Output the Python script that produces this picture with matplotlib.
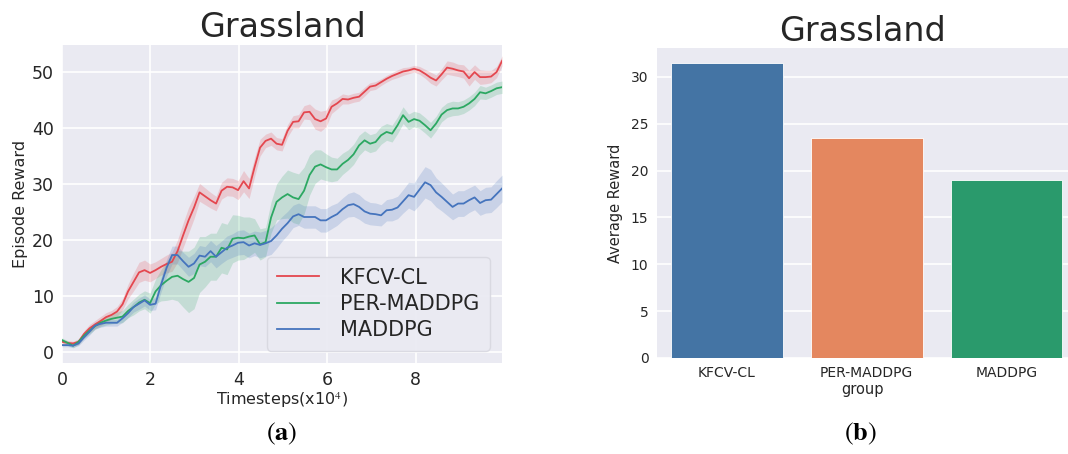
import numpy as np
import matplotlib
matplotlib.use('Agg')
import matplotlib.pyplot as plt

# timesteps in units of 1e4
timesteps = np.linspace(0, 9.95, 81)

kfcv_mean = [1.8, 1.6, 1.5, 1.8, 3.2, 4.2, 4.9, 5.5, 6.2, 6.6, 7.2,
             8.5, 10.8, 12.5, 14.2, 14.6, 14.1, 14.6, 15.2, 15.7, 16.1,
             18.0, 20.8, 23.5, 25.8, 28.5, 27.8, 27.1, 26.5, 28.8, 29.5,
             29.4, 28.9, 30.5, 29.2, 33.0, 36.5, 37.7, 38.1, 37.2, 37.0,
             39.5, 41.1, 41.2, 42.8, 42.9, 41.6, 41.2, 41.7, 43.8, 44.4,
             45.2, 45.1, 45.4, 45.6, 46.5, 47.4, 47.6, 48.2, 48.8, 49.3,
             49.7, 50.1, 50.3, 50.6, 50.3, 49.7, 49.0, 48.5, 49.6, 50.8,
             50.6, 50.3, 50.1, 48.9, 50.0, 49.1, 49.1, 49.2, 50.0, 52.0]
kfcv_std = [0.4, 0.4, 0.4, 0.5, 0.6, 0.7, 0.7, 0.8, 0.8, 0.8, 0.9,
            1.0, 1.3, 1.6, 1.8, 1.8, 1.6, 1.5, 1.5, 1.6, 1.7,
            2.0, 2.2, 2.3, 2.0, 1.6, 1.5, 1.4, 1.3, 1.5, 1.6,
            1.6, 1.7, 1.9, 1.8, 1.7, 1.5, 1.2, 1.2, 1.1, 1.1,
            1.1, 1.1, 1.2, 1.2, 1.4, 1.8, 1.8, 1.5, 1.2, 1.0,
            0.9, 0.8, 0.8, 0.8, 0.8, 0.7, 0.7, 0.6, 0.6, 0.6,
            0.7, 0.7, 0.6, 0.6, 0.7, 0.8, 1.0, 1.0, 1.0, 1.2,
            1.2, 1.1, 1.2, 1.4, 1.3, 1.3, 1.2, 1.1, 1.0, 0.9]

per_mean = [2.1, 1.6, 1.1, 1.8, 2.9, 3.8, 4.6, 5.2, 5.6, 5.9, 6.1,
            6.3, 7.3, 8.0, 8.8, 9.3, 8.7, 10.8, 11.9, 12.7, 13.4,
            13.6, 13.0, 12.5, 13.2, 15.6, 16.1, 17.0, 17.0, 18.6, 18.3,
            20.2, 20.4, 20.3, 20.6, 20.8, 19.2, 19.6, 24.0, 26.8, 27.6,
            28.2, 27.6, 27.3, 28.8, 31.6, 33.1, 33.5, 33.0, 32.6, 32.6,
            33.6, 34.3, 35.3, 36.9, 37.8, 37.2, 37.5, 38.7, 39.3, 39.0,
            40.5, 42.3, 41.1, 41.6, 41.3, 40.5, 39.6, 40.8, 42.4, 43.2,
            43.5, 43.5, 43.8, 44.4, 45.2, 46.4, 46.2, 46.6, 47.1, 47.3]
per_std = [0.4, 0.4, 0.4, 0.5, 0.5, 0.6, 0.6, 0.7, 0.8, 0.9, 1.0,
           1.1, 1.2, 1.4, 1.5, 1.6, 1.8, 2.2, 2.8, 3.5, 4.0,
           4.5, 5.0, 5.5, 5.5, 5.0, 4.5, 4.2, 4.2, 4.5, 4.5,
           4.3, 4.0, 3.8, 3.5, 3.0, 2.8, 2.6, 2.8, 3.2, 3.8,
           4.3, 4.5, 4.5, 4.2, 3.6, 3.0, 2.6, 2.4, 2.2, 2.0,
           1.9, 1.8, 1.8, 1.8, 1.7, 1.6, 1.6, 1.6, 1.5, 1.5,
           1.5, 1.5, 1.4, 1.4, 1.4, 1.4, 1.4, 1.3, 1.3, 1.3,
           1.3, 1.2, 1.2, 1.2, 1.2, 1.2, 1.1, 1.1, 1.1, 1.1]

maddpg_mean = [1.2, 1.2, 1.1, 1.5, 2.6, 3.6, 4.7, 5.0, 5.2, 5.2, 5.2,
               6.0, 6.9, 8.0, 8.6, 9.2, 8.4, 8.6, 12.0, 15.0, 17.3,
               17.3, 16.2, 15.2, 15.8, 17.2, 17.0, 18.0, 17.0, 17.8, 18.6,
               19.0, 19.5, 19.6, 19.0, 19.4, 19.1, 19.4, 19.8, 20.8, 22.0,
               23.0, 24.2, 24.6, 24.1, 24.1, 24.1, 23.5, 23.5, 24.1, 24.6,
               25.5, 26.2, 26.4, 25.9, 25.1, 24.7, 24.6, 24.4, 25.3, 25.4,
               25.8, 26.9, 28.0, 27.7, 29.0, 30.3, 29.8, 28.5, 27.7, 26.8,
               25.9, 26.5, 26.5, 27.1, 27.6, 26.6, 27.1, 27.2, 28.2, 29.2]
maddpg_std = [0.3, 0.3, 0.3, 0.4, 0.5, 0.6, 0.6, 0.6, 0.6, 0.6, 0.6,
              0.7, 0.8, 0.9, 1.0, 1.0, 1.0, 1.1, 1.3, 1.5, 1.6,
              1.6, 1.6, 1.7, 1.8, 1.8, 1.8, 1.9, 2.0, 2.0, 2.1,
              2.1, 2.2, 2.2, 2.2, 2.2, 2.3, 2.3, 2.4, 2.3, 2.2,
              2.1, 2.0, 2.0, 2.0, 2.0, 2.0, 2.1, 2.1, 2.1, 2.0,
              2.0, 2.1, 2.2, 2.2, 2.1, 2.0, 2.0, 1.9, 1.9, 2.0,
              2.0, 2.1, 2.3, 2.5, 2.7, 2.8, 2.8, 2.6, 2.5, 2.4,
              2.3, 2.3, 2.3, 2.2, 2.2, 2.2, 2.3, 2.3, 2.4, 2.4]

groups = ['KFCV-CL', 'PER-MADDPG', 'MADDPG']
avg_reward = [31.5, 23.5, 19.0]

line_colors = ['#e4474f', '#2ca862', '#4574bd']
bar_colors = ['#4474a4', '#e4875f', '#2a9a6c']

bg = '#eaeaf2'
text_c = '#262626'

plt.rcParams['mathtext.fontset'] = 'stix'
fig = plt.figure(figsize=(10.68, 4.54), dpi=100)

# (a) learning curves
ax1 = fig.add_axes([0.0581, 0.2004, 0.412, 0.700])
ax1.set_facecolor(bg)
for s in ax1.spines.values():
    s.set_visible(False)
ax1.grid(True, color='white', linewidth=1.2)
ax1.set_axisbelow(True)

series = [('KFCV-CL', kfcv_mean, kfcv_std),
          ('PER-MADDPG', per_mean, per_std),
          ('MADDPG', maddpg_mean, maddpg_std)]
for (name, m, sd), c in zip(series, line_colors):
    m = np.array(m)
    sd = np.array(sd)
    ax1.fill_between(timesteps, m - sd, m + sd, color=c, alpha=0.2, linewidth=0)
    ax1.plot(timesteps, m, color=c, linewidth=1.3, label=name)

ax1.set_xlim(0, 9.95)
ax1.set_ylim(-2, 54.8)
ax1.set_xticks([0, 2, 4, 6, 8])
ax1.set_yticks([0, 10, 20, 30, 40, 50])
ax1.tick_params(length=0, labelsize=12.5, colors=text_c, pad=6)
ax1.set_xlabel('Timesteps(x10$^4$)', fontsize=11.5, color=text_c, labelpad=1)
ax1.set_ylabel('Episode Reward', fontsize=11.5, color=text_c, labelpad=3)
ax1.set_title('Grassland', fontsize=24, color=text_c, pad=6)
leg = ax1.legend(loc='lower right', fontsize=15, handlelength=2.0,
                 labelspacing=0.3, borderpad=0.5, handletextpad=1.0,
                 facecolor=bg, edgecolor='#d8d8e0', framealpha=0.9,
                 bbox_to_anchor=(1.0, 0.0), borderaxespad=0.6)
for t in leg.get_texts():
    t.set_color(text_c)

# (b) average reward bars
ax2 = fig.add_axes([0.615, 0.2115, 0.385, 0.683])
ax2.set_facecolor(bg)
for s in ax2.spines.values():
    s.set_visible(False)
ax2.yaxis.grid(True, color='white', linewidth=1.2)
ax2.set_axisbelow(True)
ax2.bar(range(len(groups)), avg_reward, width=0.8, color=bar_colors,
        edgecolor='white', linewidth=0.6)
ax2.set_xlim(-0.5, 2.44)
ax2.set_ylim(0, 33.1)
ax2.set_xticks(range(len(groups)))
ax2.set_xticklabels(groups)
ax2.set_yticks([0, 5, 10, 15, 20, 25, 30])
ax2.tick_params(length=0, labelsize=10, colors=text_c, pad=6)
ax2.set_xlabel('group', fontsize=10.5, color=text_c, labelpad=1)
ax2.set_ylabel('Average Reward', fontsize=10.5, color=text_c, labelpad=6)
ax2.set_title('Grassland', fontsize=24, color=text_c, pad=5)

fig.text(282 / 1068, 1 - 434 / 454, r'($\mathbf{a}$)', ha='center', va='center',
         fontsize=19, family='STIXGeneral')
fig.text(860 / 1068, 1 - 434 / 454, r'($\mathbf{b}$)', ha='center', va='center',
         fontsize=19, family='STIXGeneral')

fig.savefig('out.png', dpi=100, facecolor='white')
